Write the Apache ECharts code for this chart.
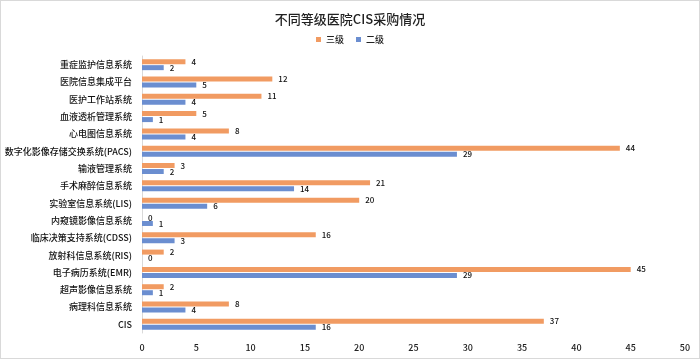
<!DOCTYPE html>
<html><head><meta charset="utf-8">
<script src="https://cdn.jsdelivr.net/npm/echarts@6/dist/echarts.min.js"></script>
<style>html,body{margin:0;padding:0;background:#fff}#c{width:700px;height:359px;box-sizing:border-box;border:1px solid #d9d9d9}</style>
</head><body><div id="c"></div>
<script>
const categories = ['重症监护信息系统','医院信息集成平台','医护工作站系统','血液透析管理系统','心电图信息系统','数字化影像存储交换系统(PACS)','输液管理系统','手术麻醉信息系统','实验室信息系统(LIS)','内窥镜影像信息系统','临床决策支持系统(CDSS)','放射科信息系统(RIS)','电子病历系统(EMR)','超声影像信息系统','病理科信息系统','CIS'];
const level3 = [4,12,11,5,8,44,3,21,20,0,16,2,45,2,8,37];
const level2 = [2,5,4,1,4,29,2,14,6,1,3,0,29,1,4,16];
const xTicks = {min:0, max:50, interval:5};
const chart = echarts.init(document.getElementById('c'));
const font = '"Noto Sans CJK SC", "Noto Sans", sans-serif';
chart.setOption({
  textStyle:{fontFamily:font},
  title:{text:'不同等级医院CIS采购情况', left:'center', top:7, textStyle:{fontSize:13, fontWeight:500, color:'#222', fontFamily:font}},
  legend:{top:29, left:'center', itemWidth:5, itemHeight:5, itemGap:12, icon:'rect', textStyle:{fontSize:9, fontWeight:500, color:'#222'}, data:['三级','二级']},
  grid:{left:141, right:14, top:55, bottom:25, containLabel:false},
  xAxis:{type:'value', min:xTicks.min, max:xTicks.max, interval:xTicks.interval, splitLine:{show:false}, axisLine:{show:false}, axisTick:{show:false}, axisLabel:{fontSize:9, fontWeight:500, color:'#222', margin:10}},
  yAxis:{type:'category', inverse:true, data:categories, axisLine:{show:true, lineStyle:{color:'#d9d9d9'}}, axisTick:{show:false}, axisLabel:{fontSize:9, fontWeight:500, color:'#111', margin:10}},
  series:[
    {name:'三级', type:'bar', data:level3, barWidth:5, barGap:'20%', itemStyle:{color:'#F19B62'}, label:{show:true, position:'right', distance:6, fontSize:8, fontWeight:500, color:'#111'}},
    {name:'二级', type:'bar', data:level2, barWidth:5, barGap:'20%', itemStyle:{color:'#6B8ED0'}, label:{show:true, position:'right', distance:6, fontSize:8, fontWeight:500, color:'#111'}}
  ]
});
</script></body></html>
